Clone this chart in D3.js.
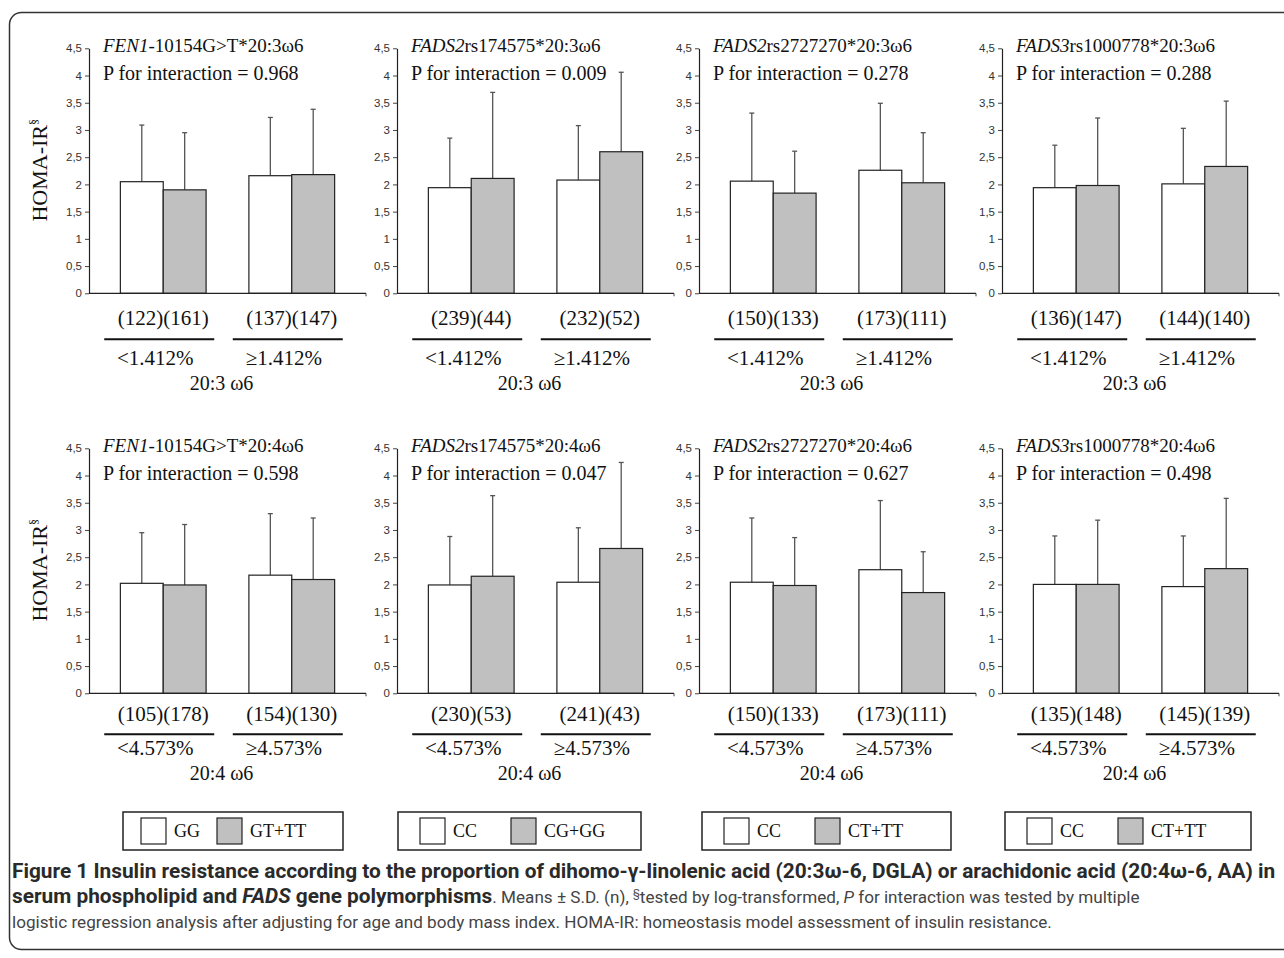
<!DOCTYPE html>
<html>
<head>
<meta charset="utf-8">
<script src="https://cdn.jsdelivr.net/npm/d3@7/dist/d3.min.js"></script>
<style>
  body { margin: 0; background: #fff; }
</style>
</head>
<body>
<div class="canvas"></div>
<script>
const w = 1284;
const h = 958;

// chart data
const genes = ["FEN1", "FADS2", "FADS2", "FADS3"];
const snps = ["-10154G>T", "rs174575", "rs2727270", "rs1000778"];
const acids = ["20:3\u03c96", "20:4\u03c96"];
const acidLabels = ["20:3 \u03c96", "20:4 \u03c96"];
const cutoffs = ["1.412%", "4.573%"];
const groupSigns = ["<", "\u2265"];
const pValues = [["0.968", "0.009", "0.278", "0.288"],
                 ["0.598", "0.047", "0.627", "0.498"]];
const genotypes = [["GG", "GT+TT"], ["CC", "CG+GG"], ["CC", "CT+TT"], ["CC", "CT+TT"]];
const yTicks = [0, 0.5, 1, 1.5, 2, 2.5, 3, 3.5, 4, 4.5];

// means: [low/wild, low/variant, high/wild, high/variant]
const means = [
  [[2.05, 1.90, 2.16, 2.18], [1.94, 2.11, 2.08, 2.60], [2.06, 1.84, 2.26, 2.03], [1.94, 1.98, 2.01, 2.33]],
  [[2.02, 1.99, 2.17, 2.09], [1.99, 2.15, 2.04, 2.66], [2.04, 1.98, 2.27, 1.85], [2.00, 2.00, 1.96, 2.29]]
];
const sds = [
  [[1.04, 1.05, 1.07, 1.20], [0.91, 1.58, 1.00, 1.46], [1.25, 0.77, 1.23, 0.92], [0.78, 1.24, 1.02, 1.20]],
  [[0.93, 1.11, 1.13, 1.13], [0.89, 1.48, 1.00, 1.58], [1.18, 0.88, 1.27, 0.75], [0.89, 1.18, 0.93, 1.29]]
];
const counts = [
  [[122, 161, 137, 147], [239, 44, 232, 52], [150, 133, 173, 111], [136, 147, 144, 140]],
  [[105, 178, 154, 130], [230, 53, 241, 43], [150, 133, 173, 111], [135, 148, 145, 139]]
];

// layout
const panelX = [89, 397, 699, 1002];
const panelW = 277;
const zeroY = [293.3, 693.3];
const plotH = 245;
const labelOff = [[32, 46, 72, 97], [28, 41, 62, 87]];
const legendX = [123, 398, 702, 1005];
const legendW = [220, 243, 249, 246];
const legendSw = [[18, 94], [22, 113], [22, 113], [22, 113]];
const serif = "'Liberation Serif', 'Times New Roman', serif";
const sans = "'Liberation Sans', Arial, sans-serif";
const fills = ["#ffffff", "#c0c0c0"];

const svg = d3.select(".canvas")
  .append("svg")
  .attr("width", w)
  .attr("height", h);

svg.append("rect")
  .attr("width", w).attr("height", h)
  .attr("fill", "#fff");

// outer frame
svg.append("rect")
  .attr("x", 9.5).attr("y", 12.5)
  .attr("width", 1300).attr("height", 937)
  .attr("rx", 12)
  .attr("fill", "none")
  .attr("stroke", "#333")
  .attr("stroke-width", 1.5);

for (let r = 0; r < 2; r++) {
  for (let c = 0; c < 4; c++) {
    const px = panelX[c];
    const y0 = zeroY[r];
    const g = svg.append("g").attr("class", "panel");

    const y = d3.scaleLinear().domain([0, 4.5]).range([y0, y0 - plotH]);
    const xGroup = d3.scaleBand().domain([0, 1]).range([px, px + panelW])
      .paddingInner(0.333).paddingOuter(0.244);
    const xSub = d3.scaleBand().domain([0, 1]).range([0, xGroup.bandwidth()]);

    const rows = means[r][c].map((m, k) => ({
      grp: Math.floor(k / 2), gt: k % 2, mean: m, sd: sds[r][c][k], n: counts[r][c][k]
    }));
    const cxOf = d => xGroup(d.grp) + xSub(d.gt) + xSub.bandwidth() / 2;

    // error bars (drawn behind the bars)
    const eb = g.selectAll(".err").data(rows).enter().append("g").attr("class", "err");
    eb.append("line")
      .attr("x1", cxOf).attr("x2", cxOf)
      .attr("y1", d => y(d.mean))
      .attr("y2", d => y(d.mean + d.sd))
      .attr("stroke", "#555")
      .attr("stroke-width", 1.3);
    eb.append("line")
      .attr("x1", d => cxOf(d) - 2.5)
      .attr("x2", d => cxOf(d) + 2.5)
      .attr("y1", d => y(d.mean + d.sd))
      .attr("y2", d => y(d.mean + d.sd))
      .attr("stroke", "#555")
      .attr("stroke-width", 1.3);

    g.selectAll(".bar").data(rows).enter().append("rect")
      .attr("class", "bar")
      .attr("x", d => xGroup(d.grp) + xSub(d.gt))
      .attr("y", d => y(d.mean))
      .attr("width", xSub.bandwidth())
      .attr("height", d => y0 - y(d.mean))
      .attr("fill", d => fills[d.gt])
      .attr("stroke", "#222")
      .attr("stroke-width", 1.2);

    // y axis
    const ax = g.append("g")
      .attr("transform", "translate(" + px + ",0)")
      .call(d3.axisLeft(y).tickValues(yTicks).tickSize(4).tickSizeOuter(0)
        .tickFormat(d => String(d).replace(".", ",")));
    ax.select(".domain").attr("stroke", "#222").attr("stroke-width", 1.2);
    ax.selectAll(".tick line").attr("stroke", "#444");
    ax.selectAll(".tick text")
      .attr("font-family", sans)
      .attr("font-size", 11.5)
      .attr("fill", "#333")
      .attr("x", -7);

    // x axis line
    g.append("line")
      .attr("x1", px).attr("x2", px + panelW)
      .attr("y1", y0).attr("y2", y0)
      .attr("stroke", "#222").attr("stroke-width", 1.2);
    g.append("line")
      .attr("x1", px + panelW).attr("x2", px + panelW)
      .attr("y1", y0).attr("y2", y0 + 3)
      .attr("stroke", "#444").attr("stroke-width", 1);

    // title
    const t = g.append("text")
      .attr("x", px + 14).attr("y", y0 - 241)
      .attr("font-family", serif).attr("font-size", 19).attr("fill", "#111");
    t.append("tspan").attr("font-style", "italic").text(genes[c]);
    t.append("tspan").text(snps[c] + "*" + acids[r]);

    g.append("text")
      .attr("x", px + 14).attr("y", y0 - 213)
      .attr("font-family", serif).attr("font-size", 20).attr("fill", "#111")
      .text("P for interaction = " + pValues[r][c]);

    if (c === 0) {
      const yl = g.append("text")
        .attr("transform", "translate(47," + (y0 - 123) + ") rotate(-90)")
        .attr("text-anchor", "middle")
        .attr("font-family", serif).attr("font-size", 22).attr("fill", "#111");
      yl.append("tspan").text("HOMA-IR");
      yl.append("tspan").attr("font-size", 12).attr("dy", -9).text("\u00a7");
    }

    // group labels
    [0, 1].forEach(k => {
      const cx = xGroup(k) + xGroup.bandwidth() / 2;
      g.append("text")
        .attr("x", cx).attr("y", y0 + labelOff[r][0])
        .attr("text-anchor", "middle")
        .attr("font-family", serif).attr("font-size", 21).attr("fill", "#111")
        .text("(" + rows[k * 2].n + ")(" + rows[k * 2 + 1].n + ")");
      g.append("line")
        .attr("x1", cx - 59).attr("x2", cx + 51)
        .attr("y1", y0 + labelOff[r][1]).attr("y2", y0 + labelOff[r][1])
        .attr("stroke", "#111").attr("stroke-width", 2);
      g.append("text")
        .attr("x", cx - 8).attr("y", y0 + labelOff[r][2])
        .attr("text-anchor", "middle")
        .attr("font-family", serif).attr("font-size", 21).attr("fill", "#111")
        .text(groupSigns[k] + cutoffs[r]);
    });

    g.append("text")
      .attr("x", px + panelW / 2 - 6).attr("y", y0 + labelOff[r][3])
      .attr("text-anchor", "middle")
      .attr("font-family", serif).attr("font-size", 20).attr("fill", "#111")
      .text(acidLabels[r]);
  }
}

// legends
genotypes.forEach((gt, c) => {
  const lg = svg.append("g")
    .attr("class", "legend")
    .attr("transform", "translate(" + legendX[c] + ",812)");
  lg.append("rect")
    .attr("width", legendW[c]).attr("height", 38)
    .attr("fill", "#fff").attr("stroke", "#222").attr("stroke-width", 1.5);
  gt.forEach((name, k) => {
    const sx = legendSw[c][k];
    lg.append("rect")
      .attr("x", sx).attr("y", 6)
      .attr("width", 25).attr("height", 26)
      .attr("fill", fills[k]).attr("stroke", "#222").attr("stroke-width", 1.2);
    lg.append("text")
      .attr("x", sx + 33).attr("y", 25)
      .attr("font-family", serif).attr("font-size", 18).attr("fill", "#111")
      .text(name);
  });
});

// caption: sizes fitted so that line widths match the original
const cap = svg.append("g").attr("class", "caption").attr("font-family", "Roboto, Lato, sans-serif");
const l1 = cap.append("text").attr("x", 12).attr("y", 878)
  .attr("font-weight", "bold").attr("fill", "#2a2a2a").attr("font-size", 17)
  .text("Figure 1 Insulin resistance according to the proportion of dihomo-\u03b3-linolenic acid (20:3\u03c9-6, DGLA) or arachidonic acid (20:4\u03c9-6, AA) in");
const boldSize = 17 * 1264 / l1.node().getComputedTextLength();
l1.attr("font-size", boldSize);

const l3 = cap.append("text").attr("x", 12).attr("y", 928).attr("fill", "#444").attr("font-size", 16)
  .text("logistic regression analysis after adjusting for age and body mass index. HOMA-IR: homeostasis model assessment of insulin resistance.");
const normSize = 16 * 1040 / l3.node().getComputedTextLength();
l3.attr("font-size", normSize);

const l2 = cap.append("text").attr("x", 12).attr("y", 903).attr("fill", "#444").attr("font-size", normSize);
l2.append("tspan").attr("font-weight", "bold").attr("font-size", boldSize).attr("fill", "#2a2a2a").text("serum phospholipid and ");
l2.append("tspan").attr("font-weight", "bold").attr("font-size", boldSize).attr("font-style", "italic").attr("fill", "#2a2a2a").text("FADS");
l2.append("tspan").attr("font-weight", "bold").attr("font-size", boldSize).attr("fill", "#2a2a2a").text(" gene polymorphisms");
l2.append("tspan").text(". Means \u00b1 S.D. (n), ");
l2.append("tspan").attr("font-size", normSize * 0.65).attr("dy", -6).text("\u00a7");
l2.append("tspan").attr("dy", 6).text("tested by log-transformed, ");
l2.append("tspan").attr("font-style", "italic").text("P");
l2.append("tspan").text(" for interaction was tested by multiple");
</script>
</body>
</html>
